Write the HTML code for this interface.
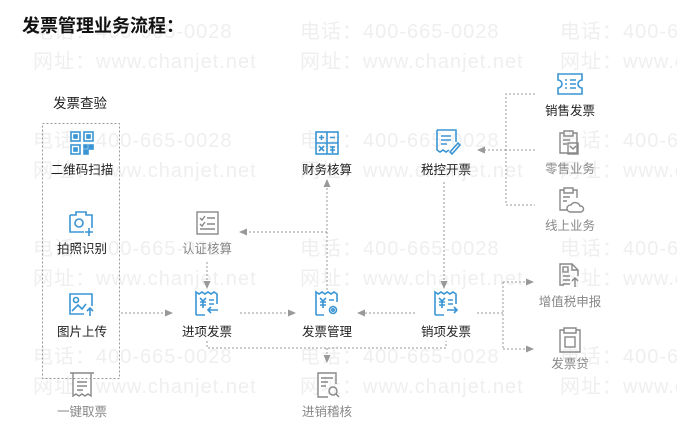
<!DOCTYPE html>
<html><head><meta charset="utf-8">
<style>
html,body{margin:0;padding:0;background:#fff;}
svg{display:block;font-family:"Liberation Sans","Noto Sans CJK SC",sans-serif;}
.wm{fill:#efefef;font-size:20px;letter-spacing:1px;}
.lb{font-size:12.5px;text-anchor:middle;fill:#222;}
.lg{font-size:12.5px;text-anchor:middle;fill:#888;}
.dl{stroke:#999;stroke-width:1;stroke-dasharray:2,2;fill:none;}
.bi{stroke:#3a95d4;stroke-width:1.6;fill:none;}
.gi{stroke:#888;stroke-width:1.4;fill:none;}
</style></head><body>
<svg width="677" height="442" viewBox="0 0 677 442" xmlns="http://www.w3.org/2000/svg">
<defs><marker id="a" markerWidth="8" markerHeight="8" refX="7" refY="4" orient="auto" markerUnits="userSpaceOnUse"><path d="M0,0.5 L8,4 L0,7.5z" fill="#999"/></marker></defs>
<!-- watermarks -->
<g class="wm">
<text x="33" y="38">电话：400-665-0028</text><text x="33" y="68">网址：www.chanjet.net</text>
<text x="300" y="38">电话：400-665-0028</text><text x="300" y="68">网址：www.chanjet.net</text>
<text x="560" y="38">电话：400-665-0028</text><text x="560" y="68">网址：www.chanjet.net</text>
<text x="33" y="147">电话：400-665-0028</text><text x="33" y="177">网址：www.chanjet.net</text>
<text x="300" y="147">电话：400-665-0028</text><text x="300" y="177">网址：www.chanjet.net</text>
<text x="560" y="147">电话：400-665-0028</text><text x="560" y="177">网址：www.chanjet.net</text>
<text x="33" y="255">电话：400-665-0028</text><text x="33" y="285">网址：www.chanjet.net</text>
<text x="300" y="255">电话：400-665-0028</text><text x="300" y="285">网址：www.chanjet.net</text>
<text x="560" y="255">电话：400-665-0028</text><text x="560" y="285">网址：www.chanjet.net</text>
<text x="33" y="363">电话：400-665-0028</text><text x="33" y="393">网址：www.chanjet.net</text>
<text x="300" y="363">电话：400-665-0028</text><text x="300" y="393">网址：www.chanjet.net</text>
<text x="560" y="363">电话：400-665-0028</text><text x="560" y="393">网址：www.chanjet.net</text>
</g>
<text x="22" y="32" font-size="18" font-weight="bold" fill="#111">发票管理业务流程：</text>
<text x="53" y="108" font-size="13.5" fill="#222">发票查验</text>
<rect x="42.5" y="123.5" width="77" height="255" class="dl"/>

<!-- connectors -->
<line x1="121" y1="313" x2="172" y2="313" class="dl" marker-end="url(#a)"/>
<line x1="207" y1="262" x2="207" y2="288" class="dl" marker-end="url(#a)"/>
<line x1="240" y1="313" x2="295" y2="313" class="dl" marker-end="url(#a)"/>
<line x1="415" y1="313" x2="358" y2="313" class="dl" marker-end="url(#a)"/>
<line x1="327" y1="290" x2="327" y2="180" class="dl" marker-end="url(#a)"/>
<line x1="327" y1="232" x2="240" y2="232" class="dl" marker-end="url(#a)"/>
<line x1="444" y1="182" x2="444" y2="288" class="dl" marker-end="url(#a)"/>
<path d="M535,94 H506 V205 H535 M535,150 H506" class="dl"/>
<line x1="506" y1="150" x2="478" y2="150" class="dl" marker-end="url(#a)"/>
<path d="M477,313 H503 M503,282 V349" class="dl"/>
<line x1="503" y1="282" x2="533" y2="282" class="dl" marker-end="url(#a)"/>
<line x1="503" y1="349" x2="533" y2="349" class="dl" marker-end="url(#a)"/>
<path d="M207,341 V348 H446 V341" class="dl"/>
<line x1="327" y1="348" x2="327" y2="362" class="dl" marker-end="url(#a)"/>

<!-- icons -->
<g class="bi">
<!-- qr -->
<rect x="71" y="132" width="9" height="9"/><rect x="84" y="132" width="9" height="9"/><rect x="71" y="145" width="9" height="9"/>
<rect x="74" y="135" width="3" height="3" fill="#3a95d4"/><rect x="87" y="135" width="3" height="3" fill="#3a95d4"/><rect x="74" y="148" width="3" height="3" fill="#3a95d4"/>
<rect x="84" y="145" width="3" height="3" fill="#3a95d4"/><rect x="89" y="145" width="4" height="4" fill="#3a95d4"/><rect x="84" y="150" width="4" height="4" fill="#3a95d4"/>
<!-- camera -->
<path d="M70,215 H76 V212 H86 V215 H92 V228 M70,215 V232 H84"/><circle cx="79" cy="223" r="4"/><path d="M89,228 V236 M85,232 H93"/>
<!-- picture upload -->
<path d="M84,314 H70 V294 H92 V306"/><circle cx="76" cy="300" r="2.5"/><path d="M72,311 L78,305 L82,309 L86,304"/><path d="M90,316 V308 M87,311 L90,308 L93,311"/>
<!-- finance calc -->
<rect x="316" y="132" width="22" height="22"/><path d="M327,132 V154 M316,143 H338 M319,137.5 H324 M321.5,135 V140 M330,137.5 H335 M319,146 L324,151 M324,146 L319,151 M330,147 H335 M330,150 H335 M332.5,146 V153"/>
<!-- tax control -->
<path d="M437,130 H456 V142 M437,130 V150 L440,152 L443,150 L446,152 L449,150"/><path d="M441,136 H451 M441,140 H451 M441,144 H447"/><path d="M450,152 L458,143 L460,145 L452,154 Z"/>
<!-- sales invoice -->
<path d="M558,74 H582 V80 A4,4 0 0 0 582,88 V94 H558 V88 A4,4 0 0 0 558,80 Z"/><path d="M565,80 H567 M570,80 H576 M565,84 H567 M570,84 H576 M565,88 H567 M570,88 H576"/>
<!-- invoice icons -->
<path d="M196,315 V292 L199,294 L202,292 L205,294 L208,292 L211,294 L214,292 L217,294 V304 M196,315 H205"/><path d="M200,298 L203,301 L206,298 M203,301 V308 M200,302 H206 M200,305 H206 M209,300 H214 M209,304 H214 M218,310 H208 M211,307 L208,310 L211,313"/>
<path d="M316,315 V292 L319,294 L322,292 L325,294 L328,292 L331,294 L334,292 L337,294 V302 M316,315 H324"/><path d="M320,298 L323,301 L326,298 M323,301 V308 M320,302 H326 M320,305 H326 M329,300 H334"/><circle cx="333" cy="310" r="3.5"/><circle cx="333" cy="310" r="1.2"/>
<path d="M435,315 V292 L438,294 L441,292 L444,294 L447,292 L450,294 L453,292 L456,294 V304 M435,315 H444"/><path d="M439,298 L442,301 L445,298 M442,301 V308 M439,302 H445 M439,305 H445 M448,300 H453 M448,304 H453 M447,310 H457 M454,307 L457,310 L454,313"/>
</g>
<g class="gi">
<!-- auth -->
<rect x="197" y="212" width="21" height="22"/><path d="M200,218 L202,220 L205,216 M207,218 H215 M200,224 L202,226 L205,222 M207,224 H215 M200,229 H215"/>
<!-- retail -->
<path d="M564,133 H560 V153 H577 V133 H573 M564,131 H573 V136 H564 Z"/><path d="M563,140 H570 M563,144 H567"/><rect x="568" y="143" width="10" height="11"/><path d="M570,146 L573,149 L576,146"/>
<!-- online -->
<path d="M564,190 H560 V210 H567 M577,198 V190 H573 M564,188 H573 V193 H564 Z"/><path d="M563,197 H570 M563,201 H567"/><path d="M570,212 H581 A3,3 0 0 0 580,206 A5,5 0 0 0 571,205 A3.5,3.5 0 0 0 570,212 Z"/>
<!-- vat -->
<path d="M564,285 H560 V264 H572 L578,270 V276 M572,264 V270 H578"/><path d="M563,276 H570 M563,280 H570 M563,284 H570 M575,287 V278 M572,281 L575,278 L578,281"/><rect x="563" y="267" width="5" height="5"/>
<!-- loan -->
<path d="M564,330 H560 V352 H580 V330 H576 M564,328 H576 V333 H564 Z"/><rect x="565" y="337" width="10" height="10"/>
<!-- take ticket -->
<path d="M70,373 H94 M73,373 V396 L76,394 L79,396 L82,394 L85,396 L88,394 L91,396 V373 M77,382 H87 M77,386 H87 M77,390 H83"/>
<!-- audit -->
<path d="M328,397 H318 V373 H336 V384"/><path d="M321,378 H333 M321,382 H328 M321,386 H326"/><circle cx="333" cy="391" r="4"/><path d="M336,394 L339,397"/>
</g>

<!-- labels -->
<text x="82" y="174" class="lb">二维码扫描</text>
<text x="82" y="253" class="lb">拍照识别</text>
<text x="82" y="336" class="lb">图片上传</text>
<text x="82" y="416" class="lg">一键取票</text>
<text x="207" y="253" class="lg">认证核算</text>
<text x="207" y="336" class="lb">进项发票</text>
<text x="327" y="174" class="lb">财务核算</text>
<text x="327" y="336" class="lb">发票管理</text>
<text x="327" y="416" class="lg">进销稽核</text>
<text x="446" y="174" class="lb">税控开票</text>
<text x="446" y="336" class="lb">销项发票</text>
<text x="570" y="115" class="lb">销售发票</text>
<text x="570" y="173" class="lg">零售业务</text>
<text x="570" y="230" class="lg">线上业务</text>
<text x="570" y="306" class="lg">增值税申报</text>
<text x="570" y="368" class="lg">发票贷</text>
</svg>
</body></html>
